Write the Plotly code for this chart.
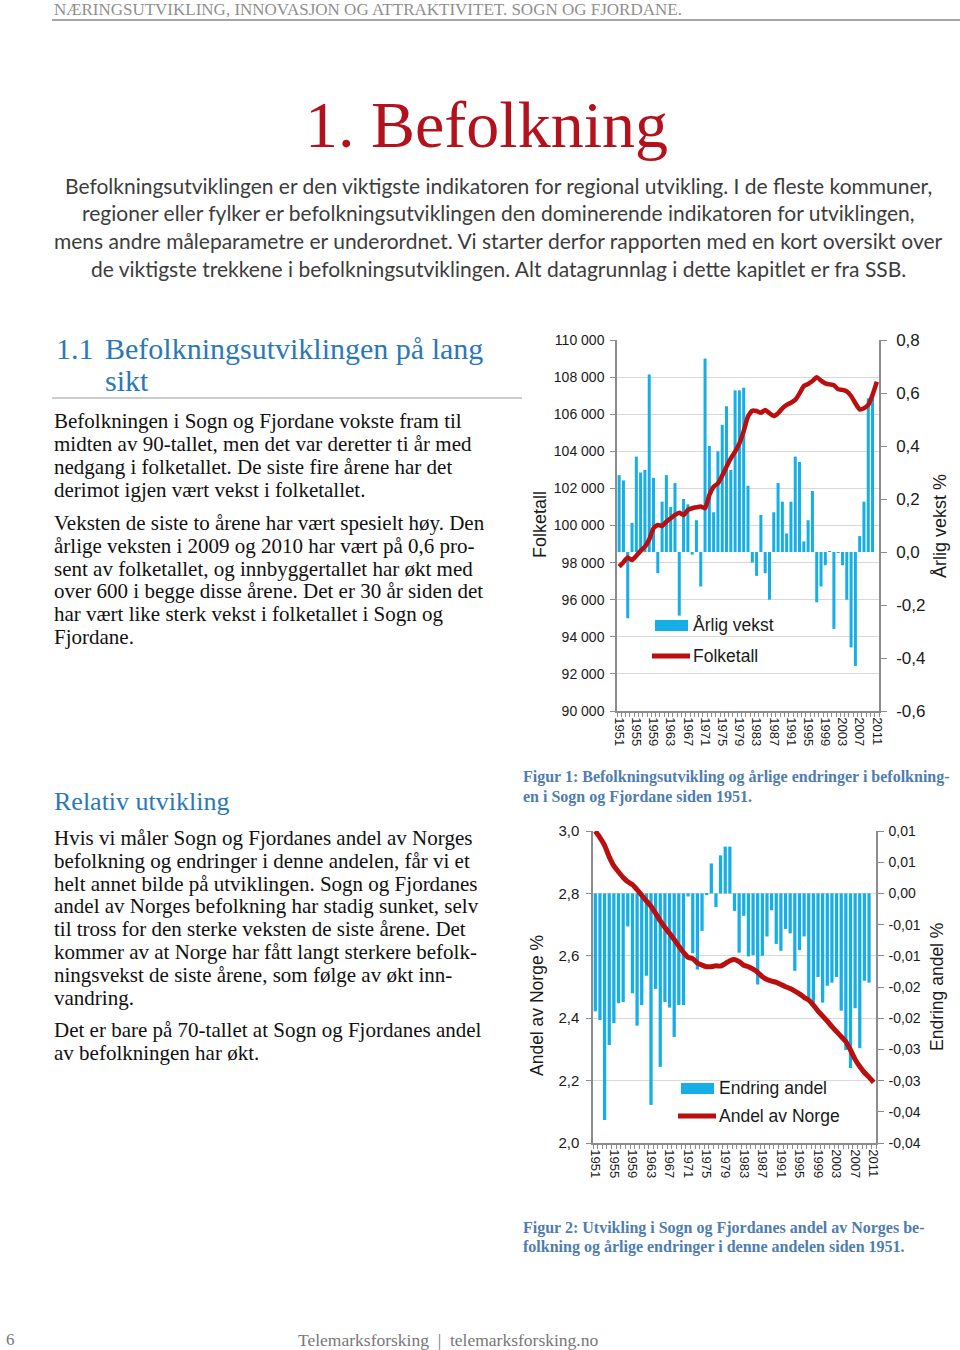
import plotly.graph_objects as go

years = list(range(1951, 2012))
tick_years = [1951, 1955, 1959, 1963, 1967, 1971, 1975, 1979, 1983, 1987,
              1991, 1995, 1999, 2003, 2007, 2011]

# Figur 1: årlig vekst i % (høyre akse) og folketall (venstre akse)
arlig_vekst = [0.29, 0.27, -0.25, 0.11, 0.36, 0.30, 0.31, 0.67, 0.28, -0.08,
               0.19, 0.29, 0.17, 0.26, -0.24, 0.20, 0.18, -0.01, 0.12, -0.13,
               0.73, 0.40, 0.15, 0.38, 0.48, 0.55, 0.31, 0.61, 0.61, 0.62,
               0.25, -0.04, -0.09, 0.14, -0.08, -0.18, 0.15, 0.26, 0.19, 0.07,
               0.19, 0.36, 0.34, 0.04, 0.12, 0.23, -0.19, -0.13, -0.05, 0.003,
               -0.29, -0.003, -0.05, -0.18, -0.36, -0.43, 0.06, 0.19, 0.58, 0.60,
               None]
folketall = [97780, 98020, 98270, 98140, 98370, 98630, 98860, 99250, 99850, 100030,
             99970, 100210, 100390, 100570, 100690, 100570, 100840, 100930, 100980, 101020,
             100930, 101640, 102090, 102270, 102690, 103170, 103620, 103980, 104430, 105090,
             105870, 106190, 106170, 106080, 106230, 106050, 105900, 106050, 106320, 106500,
             106620, 106770, 107120, 107520, 107630, 107790, 107990, 107810, 107660, 107610,
             107560, 107340, 107310, 107230, 106980, 106590, 106260, 106320, 106500, 107040,
             107750]

# Figur 2: endring i andel (høyre akse) og andel av Norge i % (venstre akse)
endring_andel = [-0.0189, -0.0203, -0.0363, -0.0243, -0.0208, -0.0176, -0.0174, -0.0053, -0.0160, -0.0212,
                 -0.0179, -0.0132, -0.0339, -0.0153, -0.0278, -0.0174, -0.0183, -0.0230, -0.0179, -0.0179,
                 -0.0005, -0.0096, -0.0122, -0.0060, -0.0002, 0.0048, -0.0022, 0.0061, 0.0075, 0.0075,
                 -0.0028, -0.0095, -0.0036, -0.0101, -0.0099, -0.0146, -0.0100, -0.0069, -0.0027, -0.0081,
                 -0.0092, -0.0057, -0.0064, -0.0124, -0.0091, -0.0069, -0.0168, -0.0182, -0.0134, -0.0175,
                 -0.0148, -0.0143, -0.0134, -0.0188, -0.0251, -0.0280, -0.0184, -0.0248, -0.0140, -0.0143,
                 None]
andel_norge = [3.000, 2.979, 2.954, 2.917, 2.888, 2.869, 2.851, 2.837, 2.828, 2.812,
               2.794, 2.776, 2.759, 2.736, 2.712, 2.691, 2.672, 2.652, 2.631, 2.611,
               2.595, 2.591, 2.577, 2.570, 2.565, 2.565, 2.568, 2.567, 2.575, 2.584,
               2.588, 2.581, 2.570, 2.565, 2.557, 2.547, 2.533, 2.524, 2.519, 2.515,
               2.508, 2.501, 2.495, 2.487, 2.478, 2.467, 2.458, 2.442, 2.423, 2.407,
               2.391, 2.373, 2.357, 2.341, 2.325, 2.298, 2.268, 2.245, 2.226, 2.211,
               2.194]

folketall_ticks = [90000, 92000, 94000, 96000, 98000, 100000, 102000, 104000, 106000, 108000, 110000]
folketall_text = ["90 000", "92 000", "94 000", "96 000", "98 000", "100 000",
                  "102 000", "104 000", "106 000", "108 000", "110 000"]
vekst_ticks = [-0.6, -0.4, -0.2, 0.0, 0.2, 0.4, 0.6, 0.8]
vekst_text = ["-0,6", "-0,4", "-0,2", "0,0", "0,2", "0,4", "0,6", "0,8"]
andel_ticks = [2.0, 2.2, 2.4, 2.6, 2.8, 3.0]
andel_text = ["2,0", "2,2", "2,4", "2,6", "2,8", "3,0"]
endring_ticks = [-0.04, -0.035, -0.03, -0.025, -0.02, -0.015, -0.01, -0.005, 0.0, 0.005, 0.01]
endring_text = ["-0,04", "-0,04", "-0,03", "-0,03", "-0,02", "-0,02", "-0,01", "-0,01", "0,00", "0,01", "0,01"]

# ---- page text ----
header = "NÆRINGSUTVIKLING, INNOVASJON OG ATTRAKTIVITET. SOGN OG FJORDANE."
title = "1. Befolkning"
intro = ["Befolkningsutviklingen er den viktigste indikatoren for regional utvikling. I de fleste kommuner,",
         "regioner eller fylker er befolkningsutviklingen den dominerende indikatoren for utviklingen,",
         "mens andre måleparametre er underordnet. Vi starter derfor rapporten med en kort oversikt over",
         "de viktigste trekkene i befolkningsutviklingen. Alt datagrunnlag i dette kapitlet er fra SSB."]
para1 = ["Befolkningen i Sogn og Fjordane vokste fram til",
         "midten av 90-tallet, men det var deretter ti år med",
         "nedgang i folketallet. De siste fire årene har det",
         "derimot igjen vært vekst i folketallet."]
para2 = ["Veksten de siste to årene har vært spesielt høy. Den",
         "årlige veksten i 2009 og 2010 har vært på 0,6 pro-",
         "sent av folketallet, og innbyggertallet har økt med",
         "over 600 i begge disse årene. Det er 30 år siden det",
         "har vært like sterk vekst i folketallet i Sogn og",
         "Fjordane."]
para3 = ["Hvis vi måler Sogn og Fjordanes andel av Norges",
         "befolkning og endringer i denne andelen, får vi et",
         "helt annet bilde på utviklingen. Sogn og Fjordanes",
         "andel av Norges befolkning har stadig sunket, selv",
         "til tross for den sterke veksten de siste årene. Det",
         "kommer av at Norge har fått langt sterkere befolk-",
         "ningsvekst de siste årene, som følge av økt inn-",
         "vandring."]
para4 = ["Det er bare på 70-tallet at Sogn og Fjordanes andel",
         "av befolkningen har økt."]
caption1 = ["Figur 1: Befolkningsutvikling og årlige endringer i befolkning-",
            "en i Sogn og Fjordane siden 1951."]
caption2 = ["Figur 2: Utvikling i Sogn og Fjordanes andel av Norges be-",
            "folkning og årlige endringer i denne andelen siden 1951."]

W, H = 960, 1350
BLUE = "#15aee6"
RED = "#bb0f0f"
HEAD_BLUE = "#2b78b6"
CAP_BLUE = "#4f7db0"
SERIF = "Liberation Serif"
ARIAL = "Liberation Sans"


def px(x):
    return x / W


def py(y):
    return 1 - y / H


fig = go.Figure()

fig.add_trace(go.Bar(x=years, y=arlig_vekst, name="Årlig vekst", marker_color=BLUE,
                     marker_line_width=0, width=0.7, xaxis="x", yaxis="y", showlegend=False))
fig.add_trace(go.Scatter(x=years, y=folketall, name="Folketall", mode="lines",
                         line=dict(color=RED, width=4.5, shape="spline", smoothing=0.5),
                         xaxis="x", yaxis="y2", showlegend=False))
fig.add_trace(go.Bar(x=years, y=endring_andel, name="Endring andel", marker_color=BLUE,
                     marker_line_width=0, width=0.7, xaxis="x2", yaxis="y3", showlegend=False))
fig.add_trace(go.Scatter(x=years, y=andel_norge, name="Andel av Norge", mode="lines",
                         line=dict(color=RED, width=5, shape="spline", smoothing=0.5),
                         xaxis="x2", yaxis="y4", showlegend=False))

axis_line = "#8c8c8c"
grid = "#d9d9d9"
tickcol = "#1a1a1a"


def xaxis(domain, anchor):
    return dict(domain=domain, anchor=anchor, range=[1950.5, 2011.5],
                tickvals=tick_years, ticktext=[str(t) for t in tick_years],
                tickangle=90, tickfont=dict(family=ARIAL, size=13, color=tickcol),
                showline=True, linecolor=axis_line, linewidth=1.5, showgrid=False,
                zeroline=False, ticks="", ticklabelstandoff=2,
                minor=dict(ticks="outside", ticklen=4, tickcolor=axis_line, dtick=1,
                           tick0=1950.5, showgrid=False))


fig.update_layout(
    width=W, height=H, margin=dict(l=0, r=0, t=0, b=0, autoexpand=False),
    paper_bgcolor="white", plot_bgcolor="rgba(0,0,0,0)",
    bargap=0.3, showlegend=False,
    xaxis=xaxis([px(617), px(879)], "y"),
    yaxis=dict(domain=[py(711), py(340)], anchor="x", side="right", range=[-0.6, 0.8],
               tickvals=vekst_ticks, ticktext=vekst_text, showgrid=False, zeroline=False,
               showline=True, linecolor=axis_line, linewidth=1.5, ticks="outside",
               ticklen=6, tickcolor=axis_line, ticklabelstandoff=6,
               tickfont=dict(family=ARIAL, size=17, color=tickcol)),
    yaxis2=dict(overlaying="y", anchor="x", side="left", range=[90000, 110000],
                tickvals=folketall_ticks, ticktext=folketall_text, showgrid=True,
                gridcolor=grid, gridwidth=1, zeroline=False, showline=True,
                linecolor=axis_line, linewidth=1.5, ticks="outside", ticklen=5,
                tickcolor=axis_line, ticklabelstandoff=3,
                tickfont=dict(family=ARIAL, size=14, color=tickcol)),
    xaxis2=xaxis([px(593), px(876)], "y3"),
    yaxis3=dict(domain=[py(1143), py(831)], anchor="x2", side="right", range=[-0.04, 0.01],
                tickvals=endring_ticks, ticktext=endring_text, showgrid=False, zeroline=False,
                showline=True, linecolor=axis_line, linewidth=1.5, ticks="outside",
                ticklen=6, tickcolor=axis_line, ticklabelstandoff=2,
                tickfont=dict(family=ARIAL, size=14, color=tickcol)),
    yaxis4=dict(overlaying="y3", anchor="x2", side="left", range=[2.0, 3.0],
                tickvals=andel_ticks, ticktext=andel_text, showgrid=True,
                gridcolor=grid, gridwidth=1, zeroline=False, showline=True,
                linecolor=axis_line, linewidth=1.5, ticks="outside", ticklen=5,
                tickcolor=axis_line, ticklabelstandoff=4,
                tickfont=dict(family=ARIAL, size=15, color=tickcol)),
)

annotations = []


def text(x, y, s, size, color, family, anchor="left", bold=False, angle=0):
    if bold:
        s = "<b>" + s + "</b>"
    annotations.append(dict(x=px(x), y=py(y), xref="paper", yref="paper", text=s,
                            showarrow=False, xanchor=anchor, yanchor="middle",
                            textangle=angle, borderpad=0,
                            font=dict(size=size, color=color, family=family)))


text(53, 9, header, 17, "#8f8f8f", SERIF)
text(486, 124, title, 66, "#b3121c", SERIF, anchor="center")
for k, line in enumerate(intro):
    text(498, 185 + k * 27.8, line, 21, "#3c3c3c", "Lato", anchor="center")

text(55, 348, "1.1", 30, HEAD_BLUE, SERIF)
text(104, 348, "Befolkningsutviklingen på lang", 30, HEAD_BLUE, SERIF)
text(104, 381, "sikt", 30, HEAD_BLUE, SERIF)
for k, line in enumerate(para1):
    text(53, 421 + k * 23, line, 21, "#111111", SERIF)
for k, line in enumerate(para2):
    text(53, 523 + k * 22.8, line, 21, "#111111", SERIF)

text(53, 801, "Relativ utvikling", 26, HEAD_BLUE, SERIF)
for k, line in enumerate(para3):
    text(53, 838 + k * 22.8, line, 21, "#111111", SERIF)
for k, line in enumerate(para4):
    text(53, 1030 + k * 23, line, 21, "#111111", SERIF)

for k, line in enumerate(caption1):
    text(522, 777 + k * 20, line, 16, CAP_BLUE, SERIF, bold=True)
for k, line in enumerate(caption2):
    text(522, 1228 + k * 19, line, 16, CAP_BLUE, SERIF, bold=True)

# axis titles
text(540, 525, "Folketall", 18, tickcol, ARIAL, anchor="center", angle=-90)
text(940, 526, "Årlig vekst %", 18, tickcol, ARIAL, anchor="center", angle=-90)
text(537, 1006, "Andel av Norge %", 17.5, tickcol, ARIAL, anchor="center", angle=-90)
text(937, 987, "Endring andel %", 17.5, tickcol, ARIAL, anchor="center", angle=-90)

# legends (drawn in the Excel style: wide swatch + thick line)
text(692, 625, "Årlig vekst", 17.5, tickcol, ARIAL)
text(692, 656, "Folketall", 17.5, tickcol, ARIAL)
text(718, 1088, "Endring andel", 17.5, tickcol, ARIAL)
text(718, 1116, "Andel av Norge", 17.5, tickcol, ARIAL)

text(5, 1339, "6", 17, "#777777", SERIF)
text(448, 1340, "Telemarksforsking  |  telemarksforsking.no", 17.5, "#777777", SERIF, anchor="center")

fig.update_layout(annotations=annotations)


def hline(x0, x1, y, color, width):
    return dict(type="line", xref="paper", yref="paper", x0=px(x0), x1=px(x1),
                y0=py(y), y1=py(y), line=dict(color=color, width=width))


def swatch(x0, x1, y0, y1):
    return dict(type="rect", xref="paper", yref="paper", x0=px(x0), x1=px(x1),
                y0=py(y1), y1=py(y0), fillcolor=BLUE, line=dict(width=0))


fig.update_layout(shapes=[
    hline(52, 960, 20, "#a6a6a6", 2),
    hline(52, 522, 398, "#9a9a9a", 1),
    swatch(655, 688, 620, 631),
    hline(652, 690, 656, RED, 5),
    swatch(681, 714, 1083, 1094),
    hline(678, 716, 1116, RED, 5),
])

# the page is exactly the figure: drop the browser's default body margin
fig.write_html("out.html", config={"displayModeBar": False},
               post_script="document.body.style.margin='0';")
